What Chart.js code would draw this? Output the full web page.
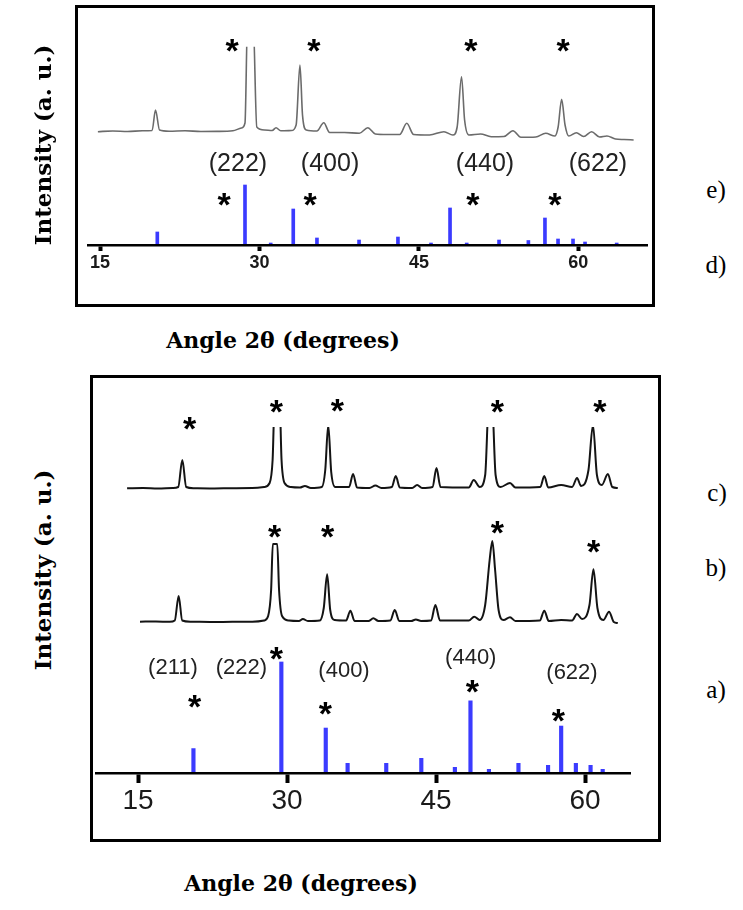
<!DOCTYPE html>
<html>
<head>
<meta charset="utf-8">
<script src="https://cdn.jsdelivr.net/npm/chart.js"></script>
<style>
  body { margin: 0; background: #fff; width: 743px; height: 910px; position: relative; overflow: hidden; }
  canvas { position: absolute; }
  .box { position: absolute; border: 3px solid #000; box-sizing: border-box; pointer-events: none; }
  .t { position: absolute; white-space: nowrap; transform: translate(-50%, -50%); color: #000; }
  .ylab { font: bold 23px "DejaVu Serif"; transform: translate(-50%, -50%) rotate(-90deg); }
  .xlab { font: bold 22px "DejaVu Serif"; }
  .pan { font: 25px "Liberation Serif"; }
  .star { font: bold 34px "Liberation Sans"; line-height: 1; transform: translate(-50%, -27%); }
  .hkl { font-family: "Liberation Sans"; color: #222; line-height: 1; }
  .hkl.big { font-size: 25px; }
  .hkl.small { font-size: 22px; }
</style>
</head>
<body>
<canvas id="topChart" width="572" height="277" style="left:80px; top:8px"></canvas>
<canvas id="botChart" width="540" height="443" style="left:92px; top:380px"></canvas>
<div class="box" style="left:75px; top:5px; width:580px; height:302px"></div>
<div class="box" style="left:90px; top:375px; width:571px; height:467px"></div>

<div class="t ylab" style="left:42px; top:145px">Intensity (a. u.)</div>
<div class="t ylab" style="left:42px; top:570px">Intensity (a. u.)</div>
<div class="t xlab" style="left:283px; top:340px">Angle 2θ (degrees)</div>
<div class="t xlab" style="left:301px; top:883px">Angle 2θ (degrees)</div>
<div class="t pan" style="left:716px; top:190px">e)</div>
<div class="t pan" style="left:716px; top:265px">d)</div>
<div class="t pan" style="left:717px; top:493px">c)</div>
<div class="t pan" style="left:716px; top:568px">b)</div>
<div class="t pan" style="left:716px; top:690px">a)</div>

<script>
// tick labels on the 2θ axes
const ticksDeg = [15, 30, 45, 60];

// top panel, e): measured pattern [2θ, a.u.]
const traceE = [
  [14.8, 13.3], [16.2, 14], [17.6, 13.5], [19.0, 14.3], [19.9, 14.5], [20.22, 35], [20.6, 15],
  [21.5, 13.8], [23.0, 14.2], [24.5, 13.5], [26.0, 13.6], [27.5, 14.2], [28.3, 17], [28.64, 22],
  [28.89, 130], [29.39, 130], [29.75, 18], [30.48, 15], [31.2, 14.5], [31.56, 17.3], [32.0, 14.2],
  [33.0, 14.5], [33.45, 20], [33.81, 80], [34.05, 30], [34.4, 15], [35.4, 14], [36.05, 22.3],
  [36.6, 12.5], [38.0, 12.5], [39.4, 11.8], [40.19, 17.3], [40.9, 11], [42.0, 10.5], [43.2, 10.5],
  [43.86, 21.7], [44.5, 10.5], [46.0, 10], [47.36, 13.3], [48.2, 10], [48.6, 18], [49.01, 68.3],
  [49.3, 25], [49.7, 10], [50.8, 11], [51.8, 8.3], [53.0, 8.5], [53.85, 14.3], [54.6, 7.7],
  [56.0, 8], [56.93, 11.7], [57.8, 9], [58.1, 18], [58.43, 45.7], [58.75, 20], [59.1, 9],
  [59.81, 12.3], [60.5, 8.5], [61.25, 13.3], [62.0, 8], [62.69, 9], [63.5, 6], [64.3, 5.5], [65.2, 5]
];

// top panel, d): reference lines
const dAngle = [20.39, 28.64, 31.06, 33.18, 35.41, 39.37, 43.03, 46.14, 47.93, 49.5, 52.54, 55.3, 56.86, 58.09, 59.5, 60.63, 63.61];
const dInt   = [21.7, 100, 3.3, 60, 11.7, 8.3, 13.3, 3.3, 61.7, 3.3, 8.3, 7.5, 45, 10, 10, 5, 3.3];

// bottom panel, c) and b): measured patterns [2θ, a.u.]
const traceC = [
  [13.9, 11.7], [15.5, 12], [17.0, 11.4], [18.5, 12], [19.05, 13], [19.46, 40], [19.85, 13],
  [20.6, 11.7], [22.5, 11.5], [24.5, 11.8], [26.5, 12], [27.7, 13], [28.25, 17], [28.55, 40],
  [28.76, 100], [29.25, 100], [29.45, 40], [29.75, 17], [30.4, 13], [31.3, 12.5], [31.8, 14],
  [32.4, 12], [33.5, 13], [33.85, 30], [34.15, 75], [34.45, 28], [34.85, 13], [36.25, 13],
  [36.65, 26], [37.05, 12.5], [38.3, 12], [38.9, 14.5], [39.5, 12], [40.55, 13], [40.95, 24],
  [41.35, 12.5], [42.6, 12], [43.1, 15], [43.6, 12], [44.65, 13], [45.05, 32], [45.45, 13],
  [48.3, 12.5], [48.8, 20], [49.4, 13], [49.95, 25], [50.33, 100], [50.63, 100], [51.0, 25],
  [51.5, 13], [52.45, 17], [53.0, 12.5], [55.5, 13], [55.9, 24], [56.3, 12.5], [57.6, 15],
  [58.7, 13], [59.2, 22], [59.6, 14], [60.35, 30], [60.8, 75], [61.2, 25], [61.7, 15],
  [62.3, 26], [62.75, 13], [63.3, 12]
];
const traceB = [
  [15.2, 8.3], [16.8, 8.5], [18.2, 8.2], [18.7, 9.5], [19.09, 34], [19.45, 9.5], [20.3, 8.3],
  [22.5, 8], [24.5, 8.2], [26.5, 8.3], [27.7, 9.5], [28.1, 14], [28.4, 40], [28.57, 86],
  [29.02, 86], [29.2, 40], [29.5, 14], [30.2, 9.5], [31.2, 9], [31.6, 11], [32.1, 9],
  [33.3, 9.5], [33.7, 22], [34.04, 55.7], [34.35, 20], [34.8, 10], [35.95, 9.5], [36.38, 19.3],
  [36.8, 9], [38.2, 9], [38.69, 11.7], [39.2, 9], [40.4, 9.5], [40.85, 20], [41.3, 9],
  [42.5, 9], [42.97, 10.5], [43.5, 9], [44.5, 9.5], [44.94, 25], [45.4, 9.5], [48.3, 9.5],
  [48.85, 13.3], [49.4, 10], [49.95, 25], [50.4, 70], [50.67, 89], [50.95, 60], [51.3, 20],
  [51.8, 10], [52.45, 12.7], [53.0, 9], [55.45, 9.5], [55.9, 19.3], [56.35, 9], [57.6, 10],
  [58.7, 9.5], [59.19, 16], [59.7, 11], [60.45, 25], [60.85, 60.7], [61.25, 22], [61.85, 10],
  [62.42, 18.3], [62.9, 8], [63.3, 7]
];

// bottom panel, a): reference lines
const aAngle = [20.58, 29.43, 33.9, 36.1, 39.99, 43.52, 46.9, 48.47, 50.33, 53.3, 56.28, 57.6, 59.08, 60.56, 61.78];
const aInt   = [22, 100, 40.5, 8.7, 8.7, 13.2, 5.1, 65, 3.3, 8.7, 6.9, 42.3, 8.7, 6.9, 3.3];

// markers: [text, 2θ, value on the given axis]
const starsE = [['*', 27.42, 103], ['*', 35.13, 103], ['*', 49.9, 103], ['*', 58.56, 103]];
const starsD = [['*', 26.67, 81.7], ['*', 34.76, 81.7], ['*', 50.09, 81.7], ['*', 57.8, 81.7]];
const hklTop = [['(222)', 27.98, -17], ['(400)', 36.64, -17], ['(440)', 51.22, -17], ['(622)', 61.85, -17]];
const starsC = [['*', 20.2, 80], ['*', 28.94, 97], ['*', 35.08, 98.3], ['*', 51.18, 97], ['*', 61.49, 97]];
const starsB = [['*', 28.76, 102], ['*', 34.08, 102], ['*', 51.18, 106], ['*', 60.86, 87]];
const starsA = [['*', 28.94, 110.8], ['*', 20.69, 67.6], ['*', 33.86, 61.3], ['*', 48.66, 81.1], ['*', 57.32, 55.2]];
const hklBot = [['(211)', 18.52, 95.8], ['(222)', 25.41, 95.5], ['(400)', 35.74, 92.8], ['(440)', 48.5, 104.5], ['(622)', 58.69, 91.3]];

const pts = arr => arr.map(([x, y]) => ({ x, y }));
const sticks = (xs, ys) => xs.map((x, i) => ({ x, y: ys[i] }));

function trace(data, axis, color, width, clipTop) {
  return {
    type: 'line', data: pts(data), yAxisID: axis, borderColor: color, borderWidth: width,
    pointRadius: 0, cubicInterpolationMode: 'monotone',
    clip: { left: false, right: false, bottom: false, top: clipTop }
  };
}

function xAxis(min, max, font, tickLen, fitHeight) {
  return {
    type: 'linear', min: min, max: max, offset: false,
    afterBuildTicks: s => { s.ticks = ticksDeg.map(v => ({ value: v })); },
    afterFit: s => { s.height = fitHeight; },
    border: { color: '#000', width: 2.5, z: 1 },
    grid: { offset: false, drawOnChartArea: false, tickLength: tickLen, tickWidth: 4, tickColor: '#000' },
    ticks: { color: '#1a1a1a', font: font, padding: 1, maxRotation: 0, autoSkip: false }
  };
}

const common = {
  responsive: false, animation: false, events: [],
  plugins: { legend: { display: false }, tooltip: { enabled: false } }
};

const cvTop = document.getElementById('topChart');
const topChart = new Chart(cvTop, {
  type: 'bar',
  data: { datasets: [
    trace(traceE, 'ye', '#6b6b6b', 1.6, -38.7),
    { type: 'bar', data: sticks(dAngle, dInt), yAxisID: 'yd', backgroundColor: '#3b3bff', barThickness: 3 }
  ]},
  options: Object.assign({}, common, {
    layout: { padding: { left: 8, right: 5, top: 0, bottom: 0 } },
    scales: {
      x: xAxis(13.87, 66.46, { family: 'Liberation Sans', size: 18, weight: 'bold' }, 6, 40),
      ye: { display: false, min: -100, max: 137 },
      yd: { display: false, min: 0, max: 395 }
    }
  })
});

const cvBot = document.getElementById('botChart');
const botChart = new Chart(cvBot, {
  type: 'bar',
  data: { datasets: [
    trace(traceC, 'yc', '#141414', 2, -47),
    trace(traceB, 'yb', '#141414', 2, false),
    { type: 'bar', data: sticks(aAngle, aInt), yAxisID: 'ya', backgroundColor: '#3b3bff', barThickness: 3.5 }
  ]},
  options: Object.assign({}, common, {
    layout: { padding: { left: 4, right: 2, top: 0, bottom: 0 } },
    scales: {
      x: xAxis(10.77, 64.53, { family: 'Liberation Sans', size: 28 }, 10, 50),
      yc: { display: false, min: -273, max: 120 },
      yb: { display: false, min: -143, max: 250 },
      ya: { display: false, min: 0, max: 354 }
    }
  })
});

// put the markers on the page where the chart's scales say
function place(chart, cv, axis, items, cls) {
  const xs = chart.scales.x, ys = chart.scales[axis];
  items.forEach(([txt, ang, val]) => {
    const el = document.createElement('div');
    el.className = 't ' + cls;
    el.textContent = txt;
    el.style.left = (cv.offsetLeft + xs.getPixelForValue(ang)) + 'px';
    el.style.top = (cv.offsetTop + ys.getPixelForValue(val)) + 'px';
    document.body.appendChild(el);
  });
}

place(topChart, cvTop, 'ye', starsE, 'star');
place(topChart, cvTop, 'yd', starsD, 'star');
place(topChart, cvTop, 'ye', hklTop, 'hkl big');
place(botChart, cvBot, 'yc', starsC, 'star');
place(botChart, cvBot, 'yb', starsB, 'star');
place(botChart, cvBot, 'ya', starsA, 'star');
place(botChart, cvBot, 'ya', hklBot, 'hkl small');
</script>
</body>
</html>
